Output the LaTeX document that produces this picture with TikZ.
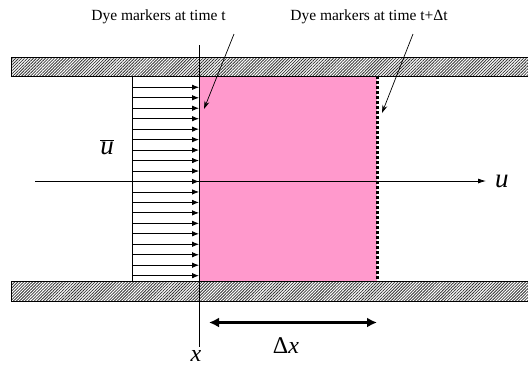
\documentclass[tikz,border=0pt]{standalone}
\usepackage{fontspec}
\setmainfont{Liberation Serif}
\usetikzlibrary{patterns.meta,arrows.meta}
\definecolor{dyepink}{HTML}{FF99CC}
\tikzset{
  wall/.style={draw=black,line width=0.9pt,pattern={Lines[angle=45,distance=2.1pt,line width=0.8pt]},pattern color=black!80},
  velarrow/.style={line width=0.8pt,-{Latex[length=7pt,width=5.5pt]}},
  leader/.style={line width=0.7pt,-{Stealth[length=8pt,width=5pt]}},
  axisarrow/.style={line width=0.8pt,-{Latex[length=8pt,width=5pt]}},
  dimarrow/.style={line width=3pt,{Latex[length=10pt,width=10pt]}-{Latex[length=10pt,width=10pt]}},
  lbl/.style={font=\fontsize{15.5}{18}\selectfont,inner sep=0pt},
  bigmath/.style={font=\fontsize{27}{30}\selectfont\itshape,inner sep=0pt}
}
\begin{document}
\begin{tikzpicture}[x=1pt,y=-1pt]
\useasboundingbox (0,0) rectangle (528,368);
% pink region and velocity box
\fill[dyepink] (199,76) rectangle (377,281);
\draw[line width=0.9pt] (132,76) -- (132,281);
% walls
\path[wall] (533,57) -- (11,57) -- (11,76) -- (533,76);
\path[wall] (533,281) -- (11,281) -- (11,301) -- (533,301);
\draw[line width=0.9pt] (11,57) -- (533,57) (11,76) -- (533,76) (11,57) -- (11,76);
\draw[line width=0.9pt] (11,281) -- (533,281) (11,301) -- (533,301) (11,281) -- (11,301);
% velocity arrows
\foreach \i in {0,...,18}{
  \coordinate (va\i) at (132,{87.3+10.465*\i});
  \coordinate (vb\i) at (199,{87.3+10.465*\i});
  \draw[velarrow] (va\i) -- (vb\i);
}
% axis
\coordinate (axs) at (35,181);
\coordinate (axe) at (486,181);
\draw[axisarrow] (axs) -- (axe);
\node[bigmath,anchor=west] (ulab) at (495,181) {u};
% vertical x line
\coordinate (xtop) at (199,45);
\coordinate (xbot) at (199,347);
\draw[line width=0.9pt] (xtop) -- (xbot);
% dotted marker line
\coordinate (dtop) at (377,76);
\coordinate (dbot) at (377,281);
\draw[line width=3pt,dash pattern=on 3pt off 2pt] (dtop) -- (dbot);
% labels
\node[lbl] (lab1) at (158.5,17) {Dye markers at time t};
\node[lbl] (lab2) at (369,17) {Dye markers at time t+Δt};
\coordinate (l1s) at (234,34);
\coordinate (l1e) at (204,109);
\coordinate (l2s) at (413,34);
\coordinate (l2e) at (382,113);
\draw[leader] (l1s) -- (l1e);
\draw[leader] (l2s) -- (l2e);
% ubar
\node[bigmath] (ubar) at (107,147) {$\overline{\mbox{\itshape u}}$};
% delta x
\coordinate (dxl) at (209,322.5);
\coordinate (dxr) at (377,322.5);
\draw[dimarrow] (dxl) -- (dxr);
\node[inner sep=0pt,font=\fontsize{24}{28}\selectfont] (dxlab) at (286,346) {Δ\textit{x}};
\node[inner sep=0pt,font=\fontsize{24}{26}\selectfont\itshape,anchor=base] (xlab) at (196,361.5) {x};
\end{tikzpicture}
\end{document}
